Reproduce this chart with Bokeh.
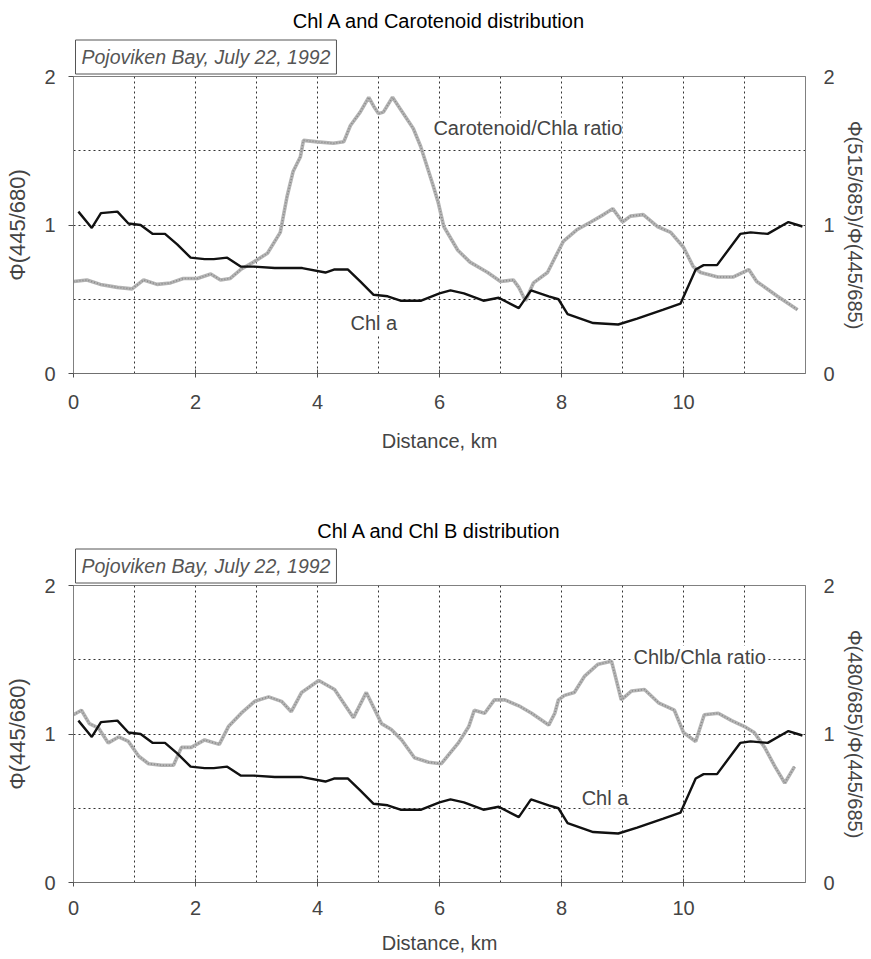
from bokeh.plotting import figure
from bokeh.models import LinearAxis, FixedTicker, Label, Range1d, Title
from bokeh.layouts import column
from bokeh.embed import file_html
from bokeh.resources import INLINE

# ---------------- data ----------------
chl_km = [0.08, 0.3, 0.45, 0.72, 0.9, 1.1, 1.3, 1.5, 1.7, 1.92, 2.15, 2.3, 2.52, 2.74, 2.95,
          3.3, 3.75, 4.13, 4.27, 4.5, 4.7, 4.92, 5.15, 5.36, 5.7, 6.0, 6.18, 6.4, 6.72, 6.97,
          7.3, 7.5, 7.79, 7.95, 8.1, 8.52, 8.93, 9.24, 9.67, 9.95, 10.2, 10.33, 10.55, 10.93,
          11.1, 11.38, 11.72, 11.95]
chl_a = [1.09, 0.98, 1.08, 1.09, 1.01, 1.0, 0.94, 0.94, 0.87, 0.78, 0.77, 0.77, 0.78, 0.72, 0.72,
         0.71, 0.71, 0.68, 0.70, 0.70, 0.62, 0.53, 0.52, 0.49, 0.49, 0.54, 0.56, 0.54, 0.49, 0.51,
         0.44, 0.56, 0.52, 0.50, 0.40, 0.34, 0.33, 0.37, 0.43, 0.47, 0.70, 0.73, 0.73, 0.94,
         0.95, 0.94, 1.02, 0.99]

car_km = [0.0, 0.22, 0.44, 0.72, 0.96, 1.15, 1.37, 1.59, 1.8, 2.03, 2.25, 2.41, 2.57, 2.74, 2.95,
          3.18, 3.39, 3.5, 3.6, 3.72, 3.77, 4.0, 4.26, 4.43, 4.54, 4.7, 4.84, 4.92, 5.0, 5.08,
          5.23, 5.36, 5.57, 5.69, 5.9, 5.98, 6.07, 6.3, 6.5, 6.79, 7.0, 7.21, 7.3, 7.41, 7.54,
          7.77, 7.93, 8.03, 8.26, 8.48, 8.69, 8.84, 9.0, 9.13, 9.34, 9.57, 9.79, 10.0, 10.16,
          10.28, 10.56, 10.82, 11.07, 11.2, 11.54, 11.87]
car_ratio = [0.62, 0.63, 0.60, 0.58, 0.57, 0.63, 0.60, 0.61, 0.64, 0.64, 0.67, 0.63, 0.64, 0.70, 0.75,
             0.81, 0.95, 1.19, 1.36, 1.46, 1.57, 1.56, 1.55, 1.56, 1.67, 1.76, 1.86, 1.80, 1.75, 1.76,
             1.86, 1.78, 1.65, 1.53, 1.26, 1.15, 0.99, 0.83, 0.75, 0.68, 0.62, 0.63, 0.58, 0.49, 0.61,
             0.68, 0.81, 0.89, 0.97, 1.02, 1.07, 1.11, 1.02, 1.06, 1.07, 0.99, 0.95, 0.85, 0.72,
             0.68, 0.65, 0.65, 0.70, 0.62, 0.52, 0.43]

chlb_km = [0.0, 0.13, 0.26, 0.41, 0.57, 0.74, 0.9, 1.07, 1.23, 1.44, 1.64, 1.77, 1.93, 2.15, 2.39,
           2.54, 2.75, 2.97, 3.2, 3.41, 3.57, 3.74, 4.02, 4.28, 4.59, 4.8, 5.05, 5.21, 5.38, 5.59,
           5.82, 6.03, 6.31, 6.48, 6.57, 6.74, 6.9, 7.07, 7.3, 7.51, 7.79, 7.89, 7.95, 8.05, 8.21,
           8.38, 8.6, 8.82, 8.87, 8.98, 9.15, 9.36, 9.59, 9.85, 10.0, 10.2, 10.34, 10.57, 10.79,
           11.0, 11.16, 11.33, 11.5, 11.66, 11.82]
chlb_ratio = [1.13, 1.16, 1.07, 1.04, 0.94, 0.98, 0.95, 0.85, 0.80, 0.79, 0.79, 0.91, 0.91, 0.96, 0.93,
              1.05, 1.14, 1.22, 1.25, 1.22, 1.15, 1.28, 1.36, 1.30, 1.11, 1.28, 1.07, 1.03, 0.96, 0.84,
              0.81, 0.80, 0.94, 1.05, 1.16, 1.14, 1.23, 1.23, 1.19, 1.14, 1.06, 1.14, 1.23, 1.26, 1.28,
              1.39, 1.47, 1.49, 1.41, 1.23, 1.29, 1.30, 1.21, 1.16, 1.01, 0.95, 1.13, 1.14, 1.09,
              1.05, 1.01, 0.91, 0.78, 0.67, 0.78]

x_ticks = [0, 2, 4, 6, 8, 10]
y_ticks = [0, 1, 2]
x_grid = [1, 2, 3, 4, 5, 6, 7, 8, 9, 10, 11]
y_grid = [0.5, 1, 1.5]

titles = ["Chl A and Carotenoid distribution", "Chl A and Chl B distribution"]
site_text = "Pojoviken Bay, July 22, 1992"
left_label = "Φ(445/680)"
right_labels = ["Φ(515/685)/Φ(445/685)", "Φ(480/685)/Φ(445/685)"]
x_label = "Distance, km"

SANS = "Liberation Sans"
FS = "20px"


def panel(height, mb_top, mb_bottom, ratio_km, ratio_vals, title, right_label,
          ratio_text, ratio_pos, chl_pos, tick_standoff, xlab_standoff, title_standoff):
    p = figure(width=868, height=height, x_range=Range1d(0, 12), y_range=Range1d(0, 2),
               output_backend="svg", toolbar_location=None,
               min_border_left=73, min_border_right=63,
               min_border_top=mb_top, min_border_bottom=mb_bottom)
    p.outline_line_color = "#808080"
    p.outline_line_width = 1
    p.background_fill_color = "white"
    p.border_fill_color = "white"

    # grid
    p.xgrid.ticker = FixedTicker(ticks=x_grid)
    p.ygrid.ticker = FixedTicker(ticks=y_grid)
    for g in (p.xgrid, p.ygrid):
        g.grid_line_color = "#333333"
        g.grid_line_dash = "2 3"
        g.grid_line_width = 1

    # bottom axis
    xa = p.xaxis[0]
    xa.ticker = FixedTicker(ticks=x_ticks)
    xa.axis_label = x_label
    xa.axis_line_color = "#707070"
    xa.major_tick_line_color = "#505050"
    xa.major_tick_in = 4
    xa.major_tick_out = 4
    xa.minor_tick_line_color = None
    xa.major_label_standoff = tick_standoff
    xa.axis_label_standoff = xlab_standoff
    xa.major_label_text_font = SANS
    xa.major_label_text_font_size = FS
    xa.axis_label_text_font = SANS
    xa.axis_label_text_font_size = FS
    xa.axis_label_text_font_style = "normal"

    # left axis
    ya = p.yaxis[0]
    ya.ticker = FixedTicker(ticks=y_ticks)
    ya.axis_label = left_label
    ya.axis_line_color = "#808080"
    ya.major_tick_line_color = "#505050"
    ya.major_tick_in = 0
    ya.major_tick_out = 5
    ya.minor_tick_line_color = None
    ya.major_label_standoff = 13
    ya.axis_label_standoff = 11
    ya.major_label_text_font = SANS
    ya.major_label_text_font_size = FS
    ya.axis_label_text_font = SANS
    ya.axis_label_text_font_size = "22px"
    ya.axis_label_text_font_style = "normal"

    # right axis
    ra = LinearAxis(ticker=FixedTicker(ticks=y_ticks), axis_label=right_label)
    ra.axis_line_color = "#808080"
    ra.major_tick_in = 0
    ra.major_tick_out = 0
    ra.minor_tick_line_color = None
    ra.major_label_standoff = 18
    ra.axis_label_standoff = 6
    ra.major_label_text_font = SANS
    ra.major_label_text_font_size = FS
    ra.axis_label_text_font = SANS
    ra.axis_label_text_font_size = FS
    ra.axis_label_text_font_style = "normal"
    p.add_layout(ra, "right")

    # lines: speckled grey ratio line, solid black Chl a line
    p.line(ratio_km, ratio_vals, line_color="#b4b4b4", line_width=3.6)
    p.line(ratio_km, ratio_vals, line_color="#8a8a8a", line_width=1.6, line_dash="1 2")
    p.line(chl_km, chl_a, line_color="#111111", line_width=2.4)

    # in-plot labels
    p.add_layout(Label(x=ratio_pos[0], y=ratio_pos[1], text=ratio_text,
                       text_font=SANS, text_font_size=FS, text_baseline="middle",
                       text_align="left", background_fill_color="white"))
    p.add_layout(Label(x=chl_pos[0], y=chl_pos[1], text="Chl a",
                       text_font=SANS, text_font_size=FS, text_baseline="middle",
                       text_align="left", background_fill_color="white"))

    # site box (closest to frame), then the chart title above it
    p.add_layout(Title(text=site_text, align="left", offset=2, standoff=5,
                       text_font=SANS, text_font_size="19.5px", text_font_style="italic",
                       text_color="#555555", background_fill_color="white",
                       border_line_color="#555555", border_line_width=1, padding=6), "above")
    p.add_layout(Title(text=title, align="center", standoff=title_standoff,
                       text_font=SANS, text_font_size=FS, text_font_style="normal",
                       text_color="black"), "above")
    return p


top = panel(480, 76, 107, car_km, car_ratio, titles[0], right_labels[0],
            "Carotenoid/Chla ratio", (5.9, 1.65), (4.54, 0.34), 17, 18, 8)
bot = panel(478, 105, 76, chlb_km, chlb_ratio, titles[1], right_labels[1],
            "Chlb/Chla ratio", (9.18, 1.52), (8.33, 0.57), 14, 14, 6)

layout = column(top, bot)
open("out.html", "w").write(file_html(layout, INLINE))
